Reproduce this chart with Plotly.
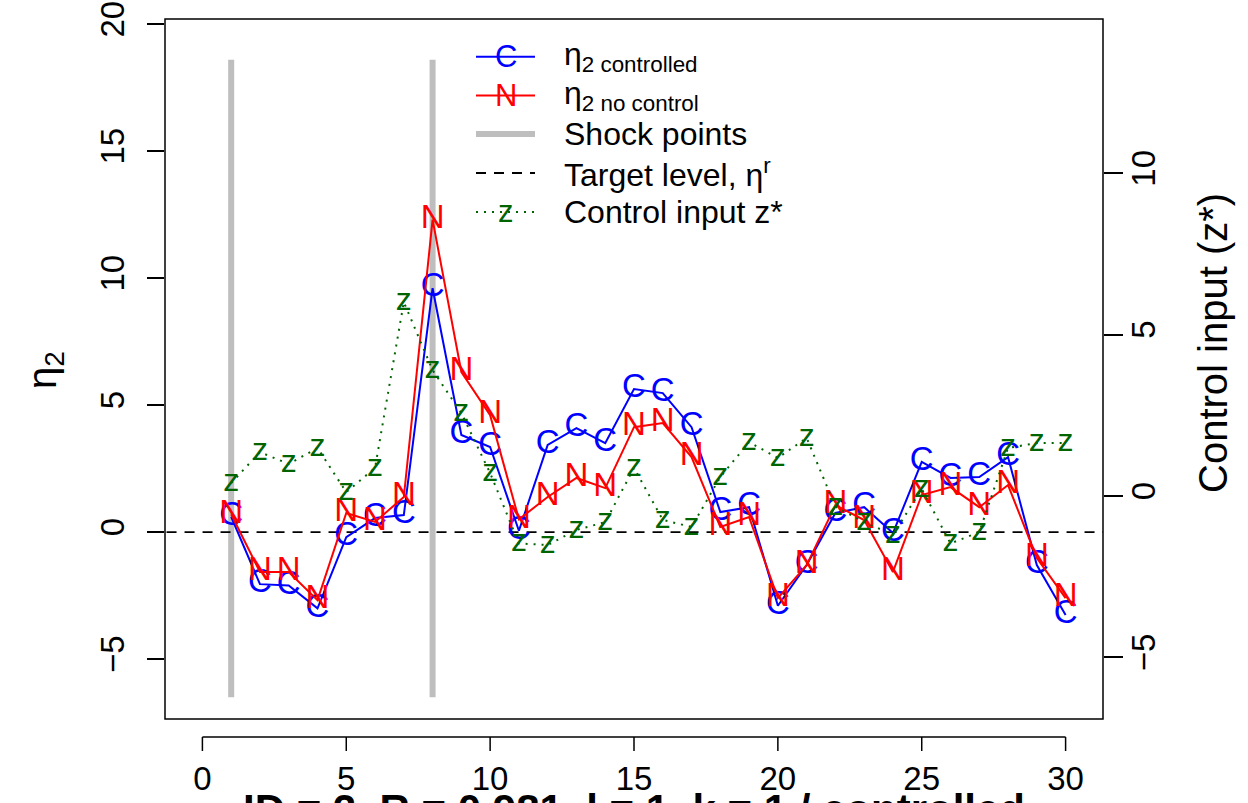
import plotly.graph_objects as go

# Time index and series
t = list(range(1, 31))
eta_controlled = [0.6, -2.05, -2.1, -3.0, -0.2, 0.55, 0.67, 9.6, 3.82, 3.35,
                  0.05, 3.43, 4.09, 3.5, 5.63, 5.47, 4.13, 0.79, 0.98, -2.9,
                  -1.3, 0.75, 0.98, -0.04, 2.76, 2.13, 2.17, 2.95, -1.3, -3.27]
eta_nocontrol = [0.7, -1.57, -1.57, -2.68, 0.75, 0.4, 1.38, 12.3, 6.3, 4.6,
                 0.5, 1.38, 2.13, 1.73, 4.13, 4.29, 2.95, 0.2, 0.59, -2.6,
                 -1.3, 1.06, 0.47, -1.57, 1.46, 1.77, 0.98, 1.85, -1.02, -2.6]
z_star = [0.4, 1.36, 0.99, 1.49, 0.12, 0.87, 6.01, 3.9, 2.57, 0.71,
          -1.47, -1.52, -1.05, -0.81, 0.87, -0.74, -0.96, 0.59, 1.67, 1.18,
          1.8, -0.33, -0.81, -1.2, 0.22, -1.47, -1.12, 1.49, 1.64, 1.64]
shock_times = [1, 8]
shock_span = [-6.5, 18.6]
target_level = 0

x_ticks = [0, 5, 10, 15, 20, 25, 30]
y_ticks = [-5, 0, 5, 10, 15, 20]
z_ticks = [-5, 0, 5, 10]

FONT = "Liberation Sans, Arial, Helvetica, sans-serif"
BLUE = "#0000FF"
RED = "#FF0000"
GREEN = "#006400"
GRAY = "#BEBEBE"

# plot area in pixels
W, H = 1248, 803
L, R, T, B = 165, 1103, 19, 719
PW, PH = R - L, B - T


def px(xp):
    return (xp - L) / PW


def py(yp):
    return (B - yp) / PH


fig = go.Figure()

# shock markers
for s in shock_times:
    fig.add_trace(go.Scatter(x=[s, s], y=shock_span, mode="lines",
                             line=dict(color=GRAY, width=6),
                             showlegend=False, hoverinfo="skip"))

# target level
fig.add_trace(go.Scatter(x=[-5, 40], y=[target_level, target_level], mode="lines",
                         line=dict(color="black", width=1.8, dash="10px,8px"),
                         showlegend=False, hoverinfo="skip"))

fig.add_trace(go.Scatter(x=t, y=eta_controlled, mode="lines+text",
                         text=["C"] * len(t), textposition="middle center",
                         textfont=dict(family=FONT, size=33, color=BLUE),
                         line=dict(color=BLUE, width=2), showlegend=False))
fig.add_trace(go.Scatter(x=t, y=eta_nocontrol, mode="lines+text",
                         text=["N"] * len(t), textposition="middle center",
                         textfont=dict(family=FONT, size=33, color=RED),
                         line=dict(color=RED, width=2), showlegend=False))
fig.add_trace(go.Scatter(x=t, y=z_star, mode="lines+text", yaxis="y2",
                         text=["z"] * len(t), textposition="middle center",
                         textfont=dict(family=FONT, size=32, color=GREEN),
                         line=dict(color=GREEN, width=2, dash="2px,6px"),
                         showlegend=False))

shapes = []
# plot box
shapes.append(dict(type="rect", xref="paper", yref="paper", x0=0, x1=1, y0=0, y1=1,
                   line=dict(color="black", width=1.5)))
# offset bottom axis
ax_y = py(737)
tk_y = py(751)
shapes.append(dict(type="line", xref="x", yref="paper", x0=x_ticks[0], x1=x_ticks[-1],
                   y0=ax_y, y1=ax_y, line=dict(color="black", width=1.5)))
for xt in x_ticks:
    shapes.append(dict(type="line", xref="x", yref="paper", x0=xt, x1=xt,
                       y0=ax_y, y1=tk_y, line=dict(color="black", width=1.5)))

annotations = []
# legend
rows = [56.7, 95.5, 134, 173, 212]
lx0, lx1, lxc, ltx = 476, 535, 505.5, 562
leg_items = [
    dict(color=BLUE, width=2, dash="solid", ch="C", label="η<sub>2 controlled</sub>"),
    dict(color=RED, width=2, dash="solid", ch="N", label="η<sub>2 no control</sub>"),
    dict(color=GRAY, width=6, dash="solid", ch=None, label="Shock points"),
    dict(color="black", width=1.8, dash="10px,8px", ch=None, label="Target level, η<sup>r</sup>"),
    dict(color=GREEN, width=2, dash="2px,6px", ch="z", label="Control input z*"),
]
for yrow, it in zip(rows, leg_items):
    shapes.append(dict(type="line", xref="paper", yref="paper", x0=px(lx0), x1=px(lx1),
                       y0=py(yrow), y1=py(yrow),
                       line=dict(color=it["color"], width=it["width"], dash=it["dash"])))
    if it["ch"]:
        annotations.append(dict(xref="paper", yref="paper", x=px(lxc), y=py(yrow),
                                text=it["ch"], showarrow=False, xanchor="center",
                                yanchor="middle",
                                font=dict(family=FONT, size=31, color=it["color"])))
    annotations.append(dict(xref="paper", yref="paper", x=px(ltx), y=py(yrow),
                            text=it["label"], showarrow=False, xanchor="left",
                            yanchor="middle",
                            font=dict(family=FONT, size=32, color="black")))

# axis titles
annotations.append(dict(xref="paper", yref="paper", x=px(45), y=py(370),
                        text="η<sub>2</sub>", showarrow=False, textangle=-90,
                        xanchor="center", yanchor="middle",
                        font=dict(family=FONT, size=40, color="black")))
annotations.append(dict(xref="paper", yref="paper", x=px(1213), y=py(343),
                        text="Control input (z*)", showarrow=False, textangle=-90,
                        xanchor="center", yanchor="middle",
                        font=dict(family=FONT, size=40, color="black")))
# subtitle under the x axis (runs off the bottom edge)
annotations.append(dict(xref="paper", yref="paper", x=0.5, y=py(784),
                        text="<b>ID = 2, R = 0.981, l = 1, k = 1 / controlled</b>",
                        showarrow=False, xanchor="center", yanchor="top",
                        font=dict(family=FONT, size=42, color="black")))

fig.update_layout(
    width=W, height=H,
    margin=dict(l=L, r=W - R, t=T, b=H - B, pad=0, autoexpand=False),
    paper_bgcolor="white", plot_bgcolor="white",
    showlegend=False,
    font=dict(family=FONT, color="black"),
    shapes=shapes, annotations=annotations,
    xaxis=dict(range=[-1.3, 31.3], tickvals=x_ticks, ticks="", showgrid=False,
               zeroline=False, showline=False, ticklabelstandoff=37, automargin=False,
               tickfont=dict(family=FONT, size=33, color="black")),
    yaxis=dict(range=[-7.36, 20.2], tickvals=y_ticks, ticks="outside", ticklen=17,
               tickwidth=1.5, tickcolor="black", tickangle=-90, showgrid=False,
               zeroline=False, showline=False, ticklabelstandoff=10, automargin=False,
               tickfont=dict(family=FONT, size=33, color="black")),
    yaxis2=dict(range=[-6.91, 14.78], tickvals=z_ticks, ticks="outside", ticklen=19,
                tickwidth=1.5, tickcolor="black", tickangle=-90, showgrid=False,
                zeroline=False, showline=False, overlaying="y", side="right",
                ticklabelstandoff=-8, automargin=False,
                tickfont=dict(family=FONT, size=33, color="black")),
)

fig.write_html("out.html")
